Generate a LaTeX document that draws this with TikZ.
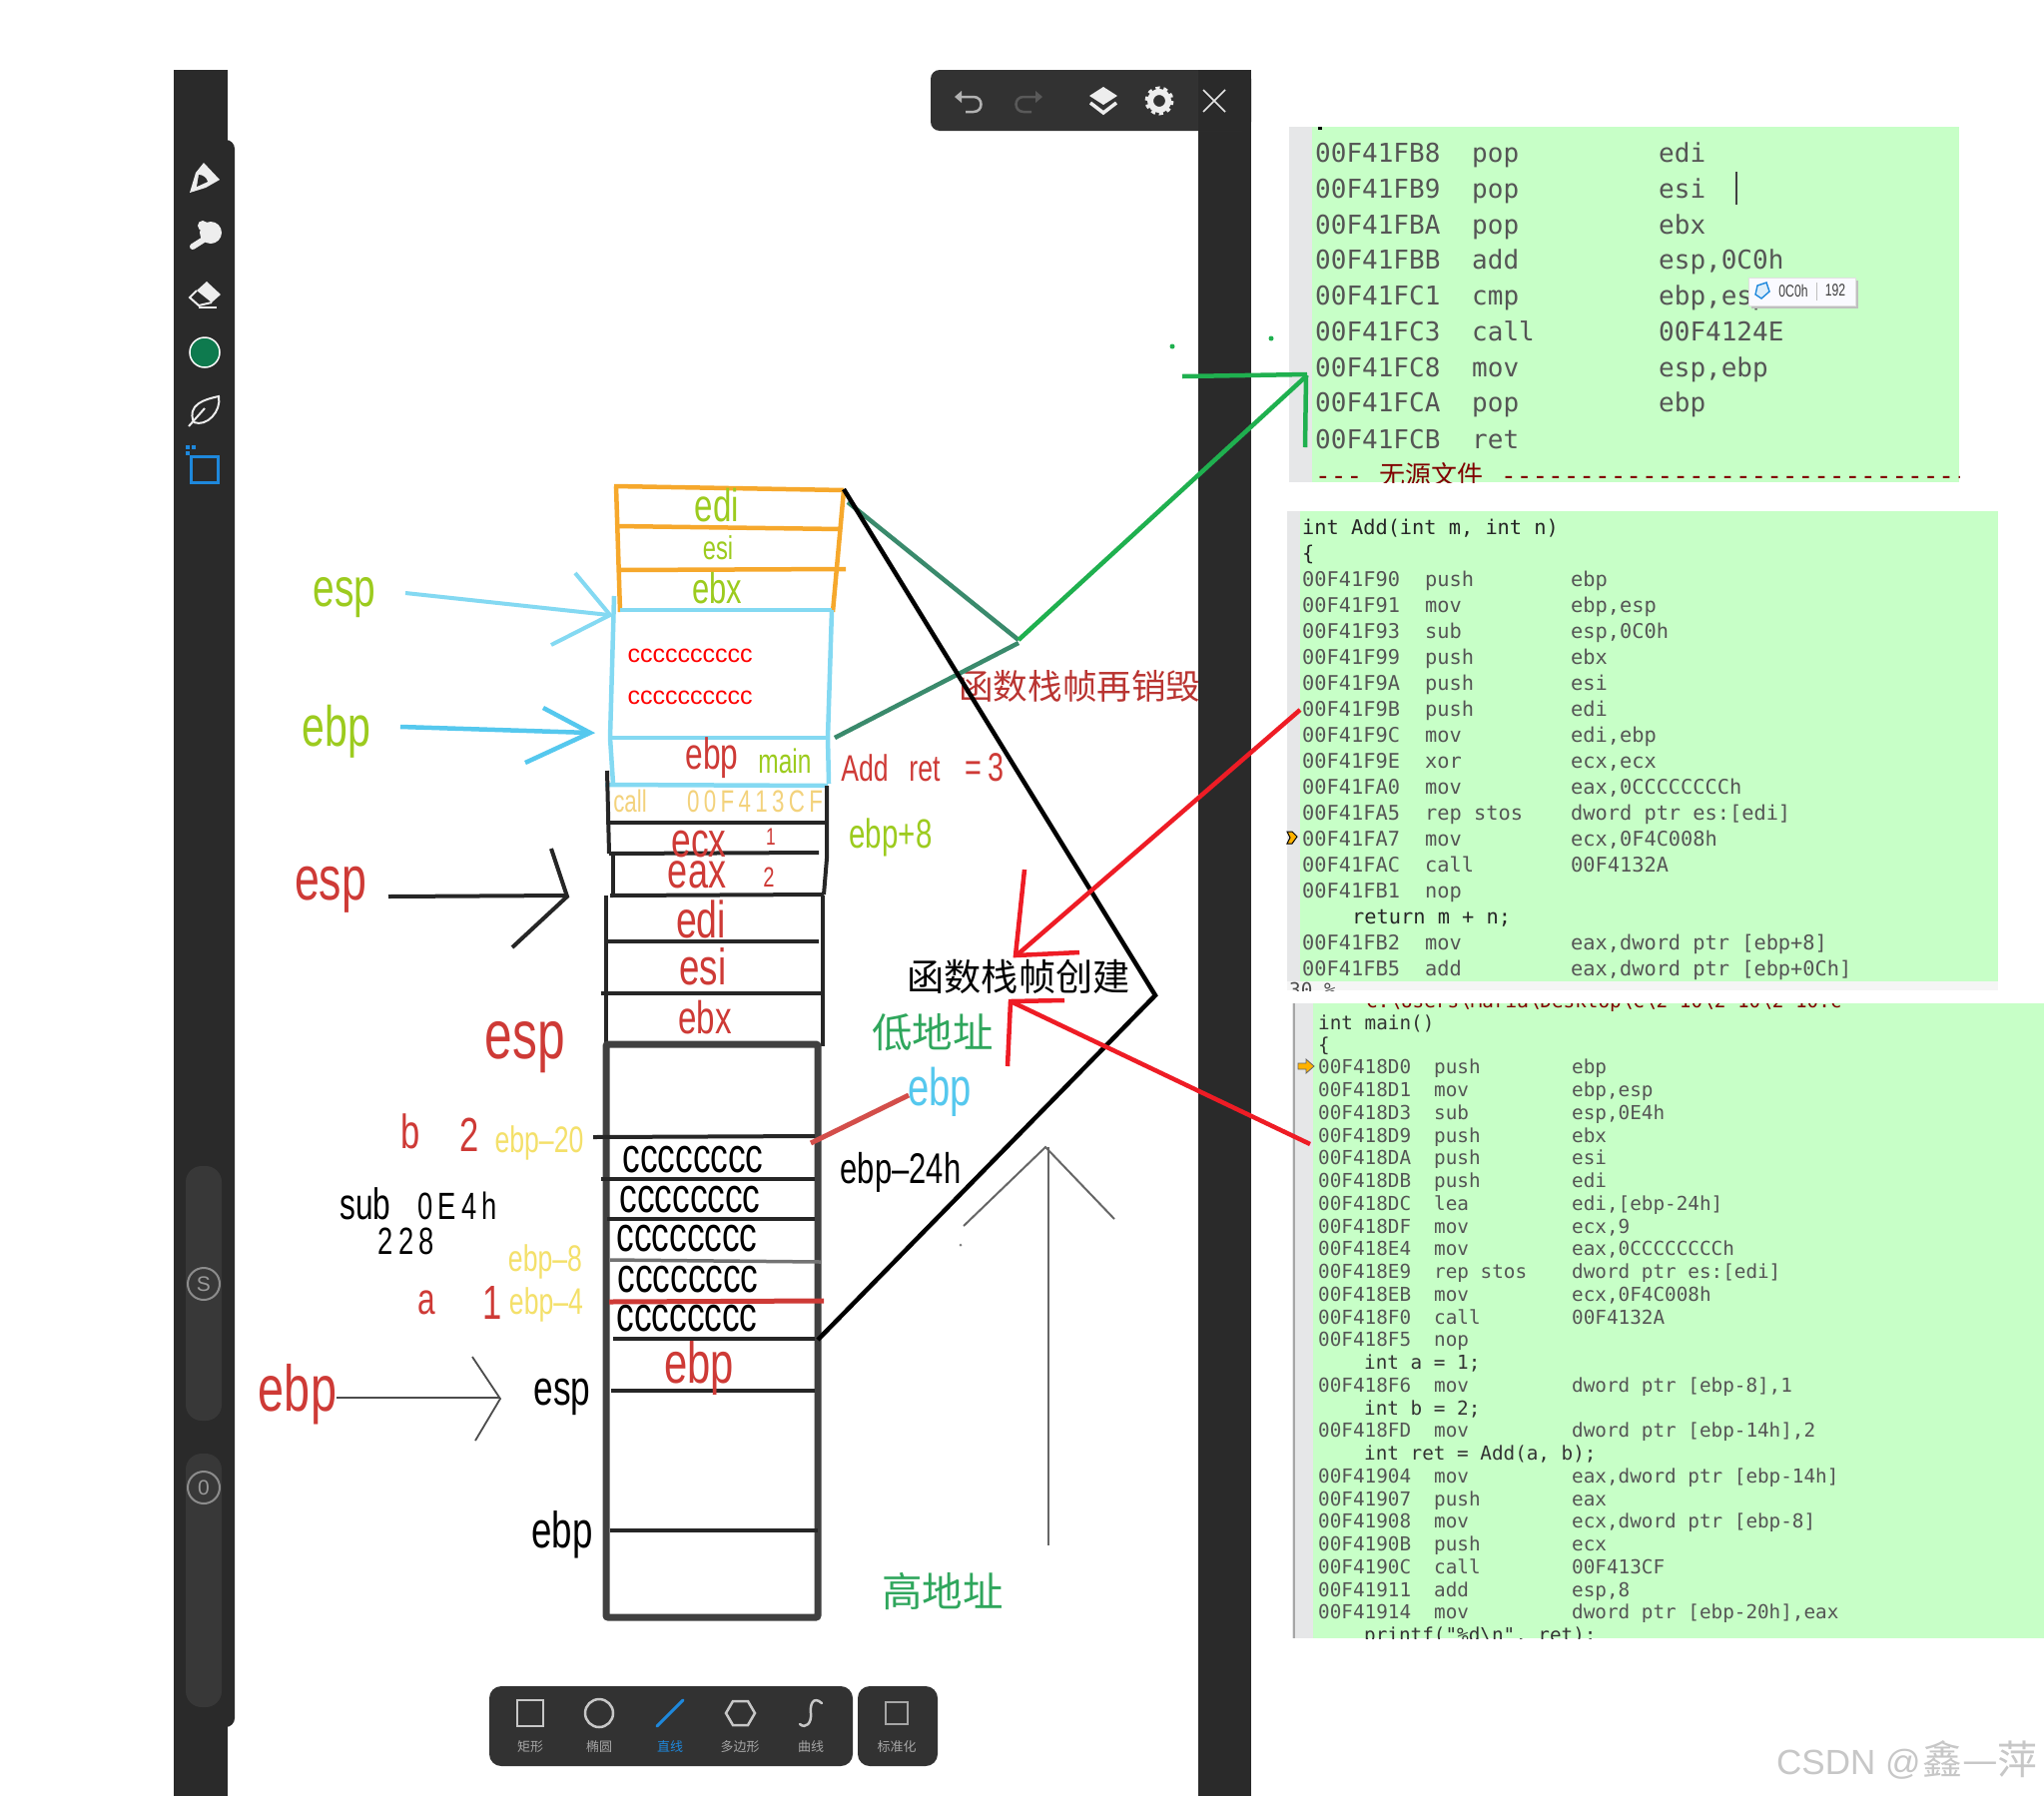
\documentclass[tikz,border=0pt]{standalone}
\usepackage{fontspec}
\setmainfont{Liberation Sans}
\newfontfamily\handfont[FakeStretch=0.72]{Liberation Sans}
\newfontfamily\handwide[FakeStretch=0.72,LetterSpace=14]{Liberation Sans}
\newfontfamily\asmfont{DejaVu Sans Mono}
\newfontfamily\cjk{Noto Sans CJK SC}
\definecolor{barDark}{HTML}{2A2A2A}
\definecolor{toolDark}{HTML}{323232}
\definecolor{codeGreen}{HTML}{C7FFC7}
\definecolor{gutterGray}{HTML}{E6E7E8}
\definecolor{asmGray}{HTML}{555555}
\definecolor{limeLabel}{HTML}{9CCB1E}
\definecolor{redLabel}{HTML}{CE3A36}
\definecolor{yellowLabel}{HTML}{F4E06A}
\definecolor{callYellow}{HTML}{F3D27C}
\definecolor{orangeBox}{HTML}{F6A82C}
\definecolor{skyLine}{HTML}{84D9F2}
\definecolor{skyLineDeep}{HTML}{55C8EE}
\definecolor{tealLine}{HTML}{3A8A6C}
\definecolor{brightGreen}{HTML}{1FB04F}
\definecolor{arrowRed}{HTML}{EE1C25}
\definecolor{cjkGreen}{HTML}{2FA65C}
\definecolor{toolBlue}{HTML}{1E88DC}
\definecolor{penGreen}{HTML}{0E7A4E}
\tikzset{
  hand/.style={font=\handfont\fontsize{#1}{#1}\selectfont, anchor=base, inner sep=0pt},
  handSpaced/.style={font=\handwide\fontsize{#1}{#1}\selectfont, anchor=base, inner sep=0pt},
  cjkLabel/.style={font=\cjk\fontsize{#1}{#1}\selectfont, anchor=center, inner sep=0pt},
  asmOne/.style={font=\asmfont\fontsize{26}{26}\selectfont, anchor=base west, inner sep=0pt, text=asmGray},
  asmTwo/.style={font=\asmfont\fontsize{20.3}{20.3}\selectfont, anchor=base west, inner sep=0pt, text=asmGray},
  asmThree/.style={font=\asmfont\fontsize{19.3}{19.3}\selectfont, anchor=base west, inner sep=0pt, text=asmGray},
  stackLine/.style={black!85, line width=4pt},
  orangeEdge/.style={orangeBox, line width=4.5pt},
  skyEdge/.style={skyLine, line width=4.5pt},
  toolLabel/.style={font=\cjk\fontsize{13}{13}\selectfont, anchor=center, inner sep=0pt, text=black!35},
  toolIcon/.style={draw=black!22, line width=2.5pt},
}
\newcommand{\pOneRow}[5]{%
  \node[asmOne] (#1a) at (1317,#2) {#3};
  \node[asmOne] (#1o) at (1474,#2) {#4};
  \node[asmOne] (#1r) at (1661,#2) {#5};
}
\newcommand{\pTwoRow}[5]{%
  \node[asmTwo] (#1a) at (1304,#2) {#3};
  \node[asmTwo] (#1o) at (1427,#2) {#4};
  \node[asmTwo] (#1r) at (1573,#2) {#5};
}
\newcommand{\pThreeRow}[5]{%
  \node[asmThree] (#1a) at (1320,#2) {#3};
  \node[asmThree] (#1o) at (1436,#2) {#4};
  \node[asmThree] (#1r) at (1574,#2) {#5};
}
\begin{document}
\begin{tikzpicture}[x=1pt,y=-1pt]
\fill[white] (0,0) rectangle (2047,1799);
% text that runs under the right bar
\begin{scope}
\clip (900,600) rectangle (1200,760);
\node[cjkLabel=34.6, anchor=west, text=redLabel!90!black] (destroyLabel) at (960,687) {函数栈帧再销毁};
\end{scope}
% tablet bars
\fill[barDark] (174,70) rectangle (228,1799);
\fill[barDark] (1200,70) rectangle (1253,1799);
\fill[barDark, rounded corners=9pt] (174,140) -- (235,140) -- (235,1730) -- (174,1730) -- cycle;
\fill[toolDark, rounded corners=9pt] (932,131) -- (932,70) -- (1253,70) -- (1253,131) -- cycle;
\fill[barDark] (1200,70) rectangle (1253,131);
\fill[black!78, rounded corners=16pt] (186,1168) rectangle (222,1423);
\fill[black!78, rounded corners=16pt] (186,1456) rectangle (222,1710);
\draw[black!45, line width=2pt] (204,1286) circle (16);
\node[font=\fontsize{21}{21}\selectfont, text=black!40, inner sep=0pt] (sliderS) at (204,1286) {S};
\draw[black!45, line width=2pt] (204,1490) circle (16);
\node[font=\fontsize{21}{21}\selectfont, text=black!40, inner sep=0pt] (sliderO) at (204,1490) {0};
% left tools
\fill[black!7] (190,193) -- (196,173) -- (204,163) -- (220,180) -- (206,188) -- cycle;
\fill[barDark] (197,187) -- (199,175) .. controls (203,175) and (207,178) .. (208,182) -- cycle;
\fill[black!7] (211,233) circle (11);
\fill[black!7] (203,226) circle (5);
\draw[black!7, line width=6pt, line cap=round] (204,240) -- (193,247);
\fill[black!7] (207,282) -- (221,295) -- (212,303) -- (197,291) -- cycle;
\draw[black!7, line width=2pt] (197,291) -- (190,298) -- (199,306) -- (212,303);
\draw[black!7, line width=2pt] (199,308) -- (217,308);
\filldraw[fill=penGreen, draw=white, line width=1.5pt] (205,353) circle (15);
\draw[black!7, line width=2pt] (194,423) .. controls (187,405) and (205,400) .. (219,397) .. controls (222,412) and (207,428) .. (194,423);
\draw[black!7, line width=2pt] (189,427) -- (205,409);
\draw[toolBlue, line width=3pt] (191,457) rectangle (218,483);
\fill[toolBlue] (186,446) rectangle (190,450);
\fill[toolBlue] (192,446) rectangle (196,450);
\fill[toolBlue] (186,452) rectangle (190,456);
% top tools
\draw[black!30, line width=2.5pt] (960,97) -- (975,97) .. controls (985,97) and (985,112) .. (975,112) -- (967,112);
\fill[black!30] (956,97) -- (963,91) -- (963,103) -- cycle;
\draw[black!65, line width=2.5pt] (1040,97) -- (1025,97) .. controls (1015,97) and (1015,112) .. (1025,112) -- (1033,112);
\fill[black!65] (1044,97) -- (1037,91) -- (1037,103) -- cycle;
\fill[black!7] (1105,87) -- (1119,96) -- (1105,105) -- (1091,96) -- cycle;
\draw[black!7, line width=3.5pt] (1092,103) -- (1105,113) -- (1118,103);
\draw[black!7, line width=6pt] (1161,101) circle (9);
\draw[black!7, line width=4pt, dash pattern=on 4pt off 3.85pt] (1161,101) circle (12.5);
\draw[black!10, line width=1.7pt] (1205,90) -- (1227,112) (1227,90) -- (1205,112);
% bottom tools
\fill[toolDark, rounded corners=12pt] (490,1689) rectangle (854,1769);
\fill[toolDark, rounded corners=12pt] (859,1689) rectangle (939,1769);
\draw[toolIcon] (518,1703) rectangle (544,1729);
\draw[toolIcon] (600,1716) circle (14);
\draw[toolBlue, line width=3pt, line cap=round] (658,1729) -- (684,1703);
\draw[toolIcon] (727,1716) -- (734,1704) -- (749,1704) -- (756,1716) -- (749,1728) -- (734,1728) -- cycle;
\draw[toolIcon, line cap=round] (823,1706) .. controls (814,1698) and (811,1708) .. (812,1716) .. controls (813,1726) and (807,1732) .. (801,1727);
\draw[toolIcon, black!35] (887,1705) rectangle (909,1727);
\node[toolLabel] (rectLabel) at (531,1750) {矩形};
\node[toolLabel] (ovalLabel) at (600,1750) {椭圆};
\node[toolLabel, text=toolBlue] (lineLabel) at (671,1750) {直线};
\node[toolLabel] (polyLabel) at (741,1750) {多边形};
\node[toolLabel] (curveLabel) at (812,1750) {曲线};
\node[toolLabel] (normLabel) at (898,1750) {标准化};
% first code panel
\fill[codeGreen] (1314,127) rectangle (1962,483);
\fill[gutterGray] (1291,127) rectangle (1314,483);
\begin{scope}
\clip (1291,127) rectangle (1962,483);
\fill[black] (1320,127) rectangle (1324,130);
\pOneRow{fb}{162}{00F41FB8}{pop}{edi}
\pOneRow{fc}{198}{00F41FB9}{pop}{esi}
\pOneRow{fd}{234}{00F41FBA}{pop}{ebx}
\pOneRow{fe}{269}{00F41FBB}{add}{esp,0C0h}
\pOneRow{ff}{305}{00F41FC1}{cmp}{ebp,esp}
\pOneRow{fg}{341}{00F41FC3}{call}{00F4124E}
\pOneRow{fh}{377}{00F41FC8}{mov}{esp,ebp}
\pOneRow{fi}{412}{00F41FCA}{pop}{ebp}
\pOneRow{fj}{449}{00F41FCB}{ret}{}
\node[asmOne, text=red!50!black, anchor=base west] (noSource) at (1317,485) {---};
\node[cjkLabel=26, anchor=base west, text=red!50!black] (noSourceCjk) at (1381,485) {无源文件};
\node[asmOne, text=red!50!black] (noSourceDash) at (1503,485) {------------------------------};
\end{scope}
\draw[black!75, line width=2pt] (1739,172) -- (1739,205);
\fill[black!25] (1754,281) rectangle (1861,309);
\filldraw[fill=black!4!blue!2, draw=black!12, line width=.8pt] (1751,278) rectangle (1858,306);
\filldraw[fill=toolBlue!15, draw=toolBlue, line width=1.4pt] (1760,286) -- (1769,283) -- (1772,292) -- (1764,299) -- (1758,295) -- cycle;
\node[font=\handfont\fontsize{17}{17}\selectfont, text=black!75, inner sep=0pt] (hexValue) at (1796,291) {0C0h};
\draw[black!25, line width=1pt] (1819,283) -- (1819,301);
\node[font=\handfont\fontsize{17}{17}\selectfont, text=black!75, inner sep=0pt] (decValue) at (1838,291) {192};
% second code panel
\fill[codeGreen] (1302,512) rectangle (2001,983);
\fill[gutterGray] (1289,512) rectangle (1302,983);
\fill[black!4] (1289,983) rectangle (2001,992);
\begin{scope}
\clip (1289,983) rectangle (1340,992);
\node[asmThree, text=black!70] (zoomPct) at (1291,998) {30 \%};
\end{scope}
\node[asmTwo, text=black!85] (addHead) at (1304,535) {int Add(int m, int n)};
\node[asmTwo, text=black!85] (addBrace) at (1304,561) {\{};
\pTwoRow{aa}{587}{00F41F90}{push}{ebp}
\pTwoRow{ab}{613}{00F41F91}{mov}{ebp,esp}
\pTwoRow{ac}{639}{00F41F93}{sub}{esp,0C0h}
\pTwoRow{ad}{665}{00F41F99}{push}{ebx}
\pTwoRow{ae}{691}{00F41F9A}{push}{esi}
\pTwoRow{af}{717}{00F41F9B}{push}{edi}
\pTwoRow{ag}{743}{00F41F9C}{mov}{edi,ebp}
\pTwoRow{ah}{769}{00F41F9E}{xor}{ecx,ecx}
\pTwoRow{ai}{795}{00F41FA0}{mov}{eax,0CCCCCCCCh}
\pTwoRow{aj}{821}{00F41FA5}{rep stos}{dword ptr es:[edi]}
\pTwoRow{ak}{847}{00F41FA7}{mov}{ecx,0F4C008h}
\pTwoRow{al}{873}{00F41FAC}{call}{00F4132A}
\pTwoRow{am}{899}{00F41FB1}{nop}{}
\node[asmTwo, text=black!85] (addReturn) at (1354,925) {return m + n;};
\pTwoRow{an}{951}{00F41FB2}{mov}{eax,dword ptr [ebp+8]}
\pTwoRow{ao}{977}{00F41FB5}{add}{eax,dword ptr [ebp+0Ch]}
\filldraw[fill=orange!60!yellow, draw=black, line width=1pt] (1289,833) -- (1294,833) -- (1299,838) -- (1294,845) -- (1289,845) -- (1292,839) -- cycle;
% third code panel
\fill[codeGreen] (1315,1005) rectangle (2047,1641);
\fill[gutterGray] (1294,1005) rectangle (1315,1641);
\draw[black!35, line width=1.2pt] (1296,1005) -- (1296,1641);
\begin{scope}
\clip (1294,1005) rectangle (2047,1641);
\node[asmThree, text=red!50!black] (mainPath) at (1368,1009) {C:\textbackslash Users\textbackslash Maria\textbackslash Desktop\textbackslash C\textbackslash 2-10\textbackslash 2-10\textbackslash 2-10.c};
\node[asmThree, text=black!80] (mainHead) at (1320,1031) {int main()};
\node[asmThree, text=black!80] (mainBrace) at (1320,1053) {\{};
\pThreeRow{ma}{1075}{00F418D0}{push}{ebp}
\pThreeRow{mb}{1098}{00F418D1}{mov}{ebp,esp}
\pThreeRow{mc}{1121}{00F418D3}{sub}{esp,0E4h}
\pThreeRow{md}{1144}{00F418D9}{push}{ebx}
\pThreeRow{me}{1166}{00F418DA}{push}{esi}
\pThreeRow{mf}{1189}{00F418DB}{push}{edi}
\pThreeRow{mg}{1212}{00F418DC}{lea}{edi,[ebp-24h]}
\pThreeRow{mh}{1235}{00F418DF}{mov}{ecx,9}
\pThreeRow{mi}{1257}{00F418E4}{mov}{eax,0CCCCCCCCh}
\pThreeRow{mj}{1280}{00F418E9}{rep stos}{dword ptr es:[edi]}
\pThreeRow{mk}{1303}{00F418EB}{mov}{ecx,0F4C008h}
\pThreeRow{ml}{1326}{00F418F0}{call}{00F4132A}
\pThreeRow{mm}{1348}{00F418F5}{nop}{}
\node[asmThree, text=black!80] (setA) at (1366,1371) {int a = 1;};
\pThreeRow{mn}{1394}{00F418F6}{mov}{dword ptr [ebp-8],1}
\node[asmThree, text=black!80] (setB) at (1366,1417) {int b = 2;};
\pThreeRow{mo}{1439}{00F418FD}{mov}{dword ptr [ebp-14h],2}
\node[asmThree, text=black!80] (setRet) at (1366,1462) {int ret = Add(a, b);};
\pThreeRow{mp}{1485}{00F41904}{mov}{eax,dword ptr [ebp-14h]}
\pThreeRow{mq}{1508}{00F41907}{push}{eax}
\pThreeRow{mr}{1530}{00F41908}{mov}{ecx,dword ptr [ebp-8]}
\pThreeRow{ms}{1553}{00F4190B}{push}{ecx}
\pThreeRow{mt}{1576}{00F4190C}{call}{00F413CF}
\pThreeRow{mu}{1599}{00F41911}{add}{esp,8}
\pThreeRow{mv}{1621}{00F41914}{mov}{dword ptr [ebp-20h],eax}
\node[asmThree, text=black!80] (callPrintf) at (1366,1644) {printf("\%d\textbackslash n", ret);};
\end{scope}
\filldraw[fill=orange!60!yellow, draw=black!60, line width=.8pt] (1300,1065) -- (1308,1065) -- (1308,1061) -- (1316,1068) -- (1308,1075) -- (1308,1071) -- (1300,1071) -- cycle;
% orange frame of Add
\draw[orangeEdge] (615,487) -- (845,491);
\draw[orangeEdge] (617,527) -- (842,530);
\draw[orangeEdge] (620,571) -- (847,570);
\draw[orangeEdge] (617,487) -- (621,613);
\draw[orangeEdge] (845,491) -- (834,613);
% blue frame of Add
\draw[skyEdge] (621,611) -- (833,611);
\draw[skyEdge] (615,597) -- (611,739) -- (614,785);
\draw[skyEdge] (833,611) -- (829,739) -- (830,785);
\draw[skyEdge] (610,739) -- (829,739);
\draw[skyEdge] (606,786) -- (829,787);
% black frame
\draw[stackLine] (608,772) -- (610,855);
\draw[stackLine] (828,787) -- (828,860) -- (825,896);
\draw[stackLine] (607,824) -- (828,824);
\draw[stackLine] (610,855) -- (820,854);
\draw[stackLine] (614,855) -- (614,897);
\draw[stackLine] (611,897) -- (825,896);
\draw[stackLine] (607,897) -- (607,1048);
\draw[stackLine] (824,897) -- (824,1048);
\draw[stackLine] (607,943) -- (820,943);
\draw[stackLine] (602,995) -- (826,995);
\draw[black!75, line width=7pt, rounded corners=2pt] (607,1046) rectangle (819,1620);
\draw[stackLine] (594,1139) -- (816,1138);
\draw[stackLine] (602,1181) -- (816,1181);
\draw[stackLine] (608,1221) -- (816,1221);
\draw[black!55, line width=3.5pt] (611,1262) -- (822,1264);
\draw[stackLine] (614,1341) -- (816,1341);
\draw[stackLine] (612,1393) -- (816,1393);
\draw[stackLine] (611,1533) -- (819,1533);
% labels of Add
\node[hand=46, text=limeLabel] (ediTop) at (718,522) {edi};
\node[hand=33, text=limeLabel] (esiTop) at (719,560) {esi};
\node[hand=43, text=limeLabel] (ebxTop) at (718,604) {ebx};
\node[font=\fontsize{25}{25}\selectfont, text=red, anchor=base, inner sep=0pt] (fillOne) at (691,663) {cccccccccc};
\node[font=\fontsize{25}{25}\selectfont, text=red, anchor=base, inner sep=0pt] (fillTwo) at (691,705) {cccccccccc};
\node[hand=44, text=redLabel] (ebpSaved) at (713,770) {ebp};
\node[hand=34, text=limeLabel] (mainTag) at (786,774) {main};
\node[hand=37, text=redLabel] (addTag) at (866,782) {Add};
\node[hand=37, text=redLabel] (retTag) at (926,782) {ret};
\node[handSpaced=40, text=redLabel] (eqTag) at (986,782) {=3};
\node[hand=31, text=callYellow] (callTag) at (631,813) {call};
\node[handSpaced=31, text=callYellow] (callAddr) at (756,813) {00F413CF};
\node[hand=49, text=redLabel] (ecxArg) at (700,858) {ecx};
\node[hand=24, text=redLabel] (oneArg) at (772,846) {1};
\node[hand=50, text=redLabel] (eaxArg) at (698,889) {eax};
\node[hand=28, text=redLabel] (twoArg) at (770,888) {2};
\node[hand=41, text=limeLabel] (ebpEight) at (892,849) {ebp+8};
\node[hand=52, text=redLabel] (ediLow) at (702,939) {edi};
\node[hand=51, text=redLabel] (esiLow) at (704,986) {esi};
\node[hand=46, text=redLabel] (ebxLow) at (706,1035) {ebx};
% labels round the stack
\node[hand=54, text=limeLabel] (espTop) at (345,607) {esp};
\node[hand=57, text=limeLabel] (ebpTop) at (337,747) {ebp};
\node[hand=62, text=redLabel] (espMid) at (331,901) {esp};
\node[hand=69, text=redLabel] (espRed) at (526,1060) {esp};
\node[hand=48, text=redLabel] (varB) at (411,1150) {b};
\node[hand=48, text=redLabel] (valB) at (470,1153) {2};
\node[hand=37, text=yellowLabel] (ebpTwenty) at (540,1154) {ebp–20};
\node[hand=44] (subWord) at (366,1221) {sub};
\node[handSpaced=38] (subHex) at (458,1221) {0E4h};
\node[handSpaced=38] (subDec) at (407,1256) {228};
\node[hand=37, text=yellowLabel] (ebpMinusEight) at (546,1273) {ebp–8};
\node[hand=44, text=redLabel] (varA) at (427,1316) {a};
\node[hand=48, text=redLabel] (valA) at (493,1321) {1};
\node[hand=37, text=yellowLabel] (ebpFour) at (547,1316) {ebp–4};
\node[hand=65, text=redLabel] (ebpBig) at (298,1413) {ebp};
\node[hand=49] (espBlack) at (563,1407) {esp};
\node[hand=58, text=redLabel] (ebpCell) at (700,1385) {ebp};
\node[hand=51] (ebpBlack) at (563,1550) {ebp};
\node[hand=53, text=skyLineDeep] (ebpBlue) at (941,1107) {ebp};
\node[hand=43] (ebpTwentyFour) at (902,1185) {ebp–24h};
\node[hand=49] (rowOne) at (694,1174) {cccccccc};
\node[hand=49] (rowTwo) at (691,1214) {cccccccc};
\node[hand=49] (rowThree) at (688,1253) {cccccccc};
\node[hand=49] (rowFour) at (689,1294) {cccccccc};
\node[hand=49] (rowFive) at (688,1333) {cccccccc};
\draw[redLabel, line width=5pt] (610,1304) -- (825,1303);
\draw[redLabel!90, line width=5pt] (812,1145) -- (910,1097);
\node[cjkLabel=37.2] (createLabel) at (1020,978) {函数栈帧创建};
\node[cjkLabel=40.5, text=cjkGreen] (lowLabel) at (934,1034) {低地址};
\node[cjkLabel=40.5, text=cjkGreen] (highLabel) at (944,1594) {高地址};
% arrows
\draw[skyLine, line width=4pt] (406,594) -- (610,616);
\draw[skyLine, line width=4pt] (576,574) -- (611,616) -- (552,646);
\draw[skyLineDeep, line width=4.5pt] (401,728) -- (591,734);
\draw[skyLineDeep, line width=4.5pt] (544,709) -- (591,734) -- (526,764);
\draw[black!85, line width=4pt] (389,898) -- (567,897);
\draw[black!85, line width=4pt] (552,850) -- (568,898) -- (513,949);
\draw[black!70, line width=1.8pt] (337,1400) -- (501,1400);
\draw[black!70, line width=1.8pt] (473,1359) -- (501,1401) -- (476,1443);
\draw[black!60, line width=2pt] (1050,1149) -- (1050,1548);
\draw[black!60, line width=2pt] (965,1228) -- (1047,1149) -- (1116,1221);
\fill[black!50] (962,1247) circle (1.5);
\draw[tealLine, line width=4.5pt] (849,503) -- (1020,641);
\draw[tealLine, line width=4.5pt] (836,739) -- (1020,644);
\draw[brightGreen, line width=4.5pt] (1020,641) -- (1309,376);
\draw[brightGreen, line width=4.5pt] (1184,377) -- (1309,375);
\draw[brightGreen, line width=4.5pt] (1308,376) -- (1307,448);
\fill[brightGreen] (1174,347) circle (2.5);
\fill[brightGreen] (1273,339) circle (2.5);
\draw[black, line width=4.5pt] (845,490) -- (1157,997) -- (819,1342);
\draw[arrowRed, line width=4.5pt] (1302,711) -- (1018,957);
\draw[arrowRed, line width=4.5pt] (1026,871) -- (1017,957) -- (1081,954);
\draw[arrowRed, line width=4.5pt] (1312,1146) -- (1012,1003);
\draw[arrowRed, line width=4.5pt] (1009,1068) -- (1012,1003) -- (1066,1002);
% watermark
\node[font=\fontsize{35}{35}\selectfont, text=black!22, anchor=base west, inner sep=0pt] (markLatin) at (1779,1777) {CSDN @};
\node[font=\cjk\fontsize{40}{40}\selectfont, text=black!22, anchor=base west, inner sep=0pt] (markCjk) at (1925,1777) {鑫—萍};
\end{tikzpicture}
\end{document}
